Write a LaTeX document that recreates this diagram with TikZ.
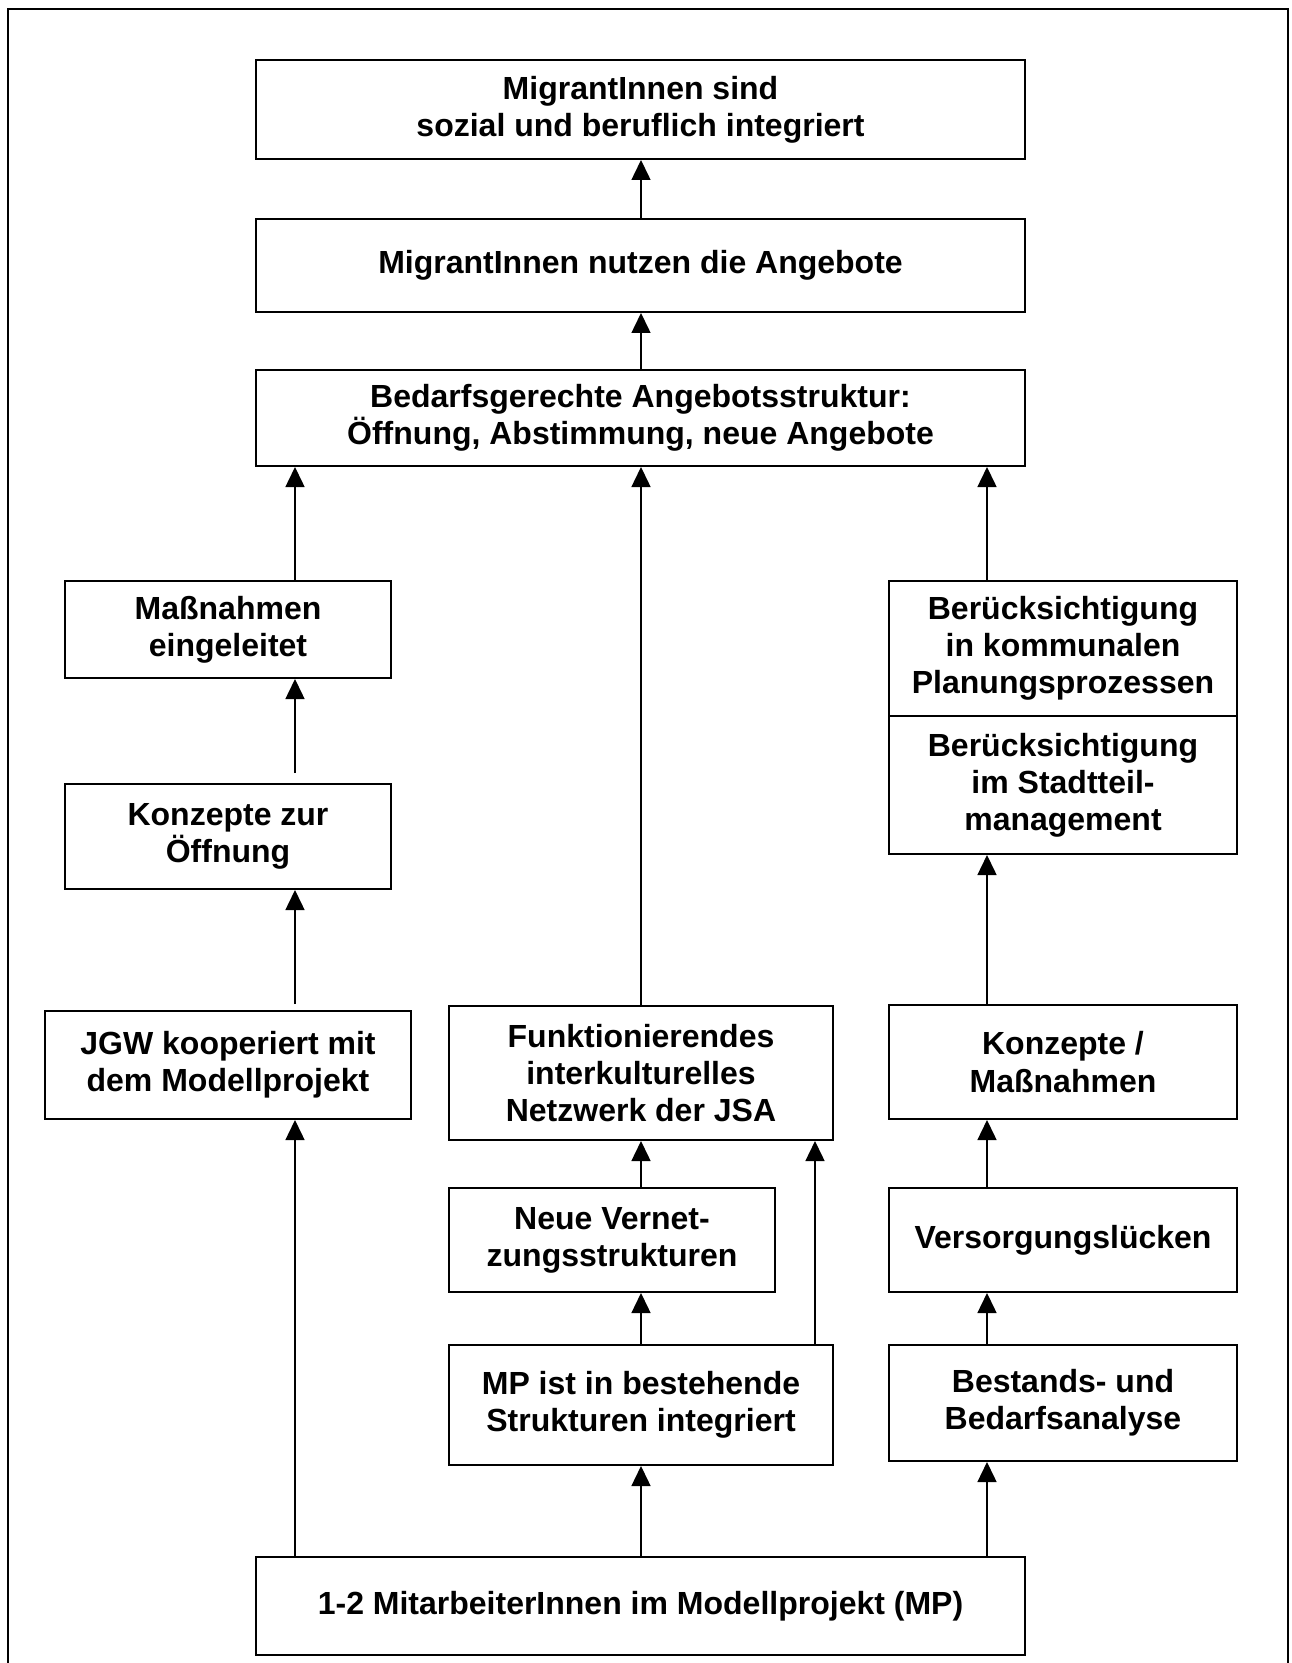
\documentclass[tikz,border=0pt]{standalone}
\usepackage{fontspec}
\setmainfont{Liberation Sans}
\usetikzlibrary{arrows.meta}
\begin{document}
\begin{tikzpicture}[x=0.5pt,y=-0.5pt,
  box/.style={draw, line width=1pt, align=center, inner sep=0pt,
    font=\bfseries\fontsize{16}{18.6}\selectfont},
  bx/.style 2 args={box, minimum width=#1*0.5pt, minimum height=#2*0.5pt},
  arr/.style={line width=0.75pt, -{Triangle[length=10pt,width=9.5pt]}}]
\useasboundingbox (0,0) rectangle (1291,1663);
\draw[line width=1pt] (8,1663) -- (8,9) -- (1288,9) -- (1288,1663);

\node[bx={769}{99}]  (top)   at (640.5,109.5) {MigrantInnen sind\\sozial und beruflich integriert};
\node[bx={769}{93}]  (use)   at (640.5,265.5) {MigrantInnen nutzen die Angebote};
\node[bx={769}{96}]  (ang)   at (640.5,418)   {Bedarfsgerechte Angebotsstruktur:\\Öffnung, Abstimmung, neue Angebote};
\node[bx={326}{97}]  (massn) at (228,629.5)   {Maßnahmen\\eingeleitet};
\node[bx={326}{105}] (konz)  at (228,836.5)   {Konzepte zur\\Öffnung};
\node[bx={366}{108}] (jgw)   at (228,1065)    {JGW kooperiert mit\\dem Modellprojekt};
\node[bx={384}{134}] (funk)  at (641,1073)    {Funktionierendes\\interkulturelles\\Netzwerk der JSA};
\node[bx={348}{135}] (berk1) at (1063,648.5)  {Berücksichtigung\\in kommunalen\\Planungsprozessen};
\node[bx={348}{138}] (berk2) at (1063,785)    {Berücksichtigung\\im Stadtteil-\\management};
\node[bx={348}{114}] (konzm) at (1063,1062)   {Konzepte /\\Maßnahmen};
\node[bx={326}{104}] (neue)  at (612,1240)    {Neue Vernet-\\zungsstrukturen};
\node[bx={348}{104}] (vers)  at (1063,1240)   {Versorgungslücken};
\node[bx={384}{120}] (mp)    at (641,1405)    {MP ist in bestehende\\Strukturen integriert};
\node[bx={348}{116}] (best)  at (1063,1403)   {Bestands- und\\Bedarfsanalyse};
\node[bx={769}{98}]  (bot)   at (640.5,1606)  {1-2 MitarbeiterInnen im Modellprojekt (MP)};

\coordinate (xl) at (295,0);
\coordinate (xm) at (641,0);
\coordinate (xr) at (987,0);
\coordinate (xe) at (815,0);

\draw[arr] (use.north -| xm) -- (top.south -| xm);
\draw[arr] (ang.north -| xm) -- (use.south -| xm);
\draw[arr] (massn.north -| xl) -- (ang.south -| xl);
\draw[arr, shorten <=5pt] (konz.north -| xl) -- (massn.south -| xl);
\draw[arr, shorten <=3pt] (jgw.north -| xl) -- (konz.south -| xl);
\draw[arr] (bot.north -| xl) -- (jgw.south -| xl);
\draw[arr] (funk.north -| xm) -- (ang.south -| xm);
\draw[arr] (neue.north -| xm) -- (funk.south -| xm);
\draw[arr] (mp.north -| xm) -- (neue.south -| xm);
\draw[arr] (mp.north -| xe) -- (funk.south -| xe);
\draw[arr] (bot.north -| xm) -- (mp.south -| xm);
\draw[arr] (berk1.north -| xr) -- (ang.south -| xr);
\draw[arr] (konzm.north -| xr) -- (berk2.south -| xr);
\draw[arr] (vers.north -| xr) -- (konzm.south -| xr);
\draw[arr] (best.north -| xr) -- (vers.south -| xr);
\draw[arr] (bot.north -| xr) -- (best.south -| xr);
\end{tikzpicture}
\end{document}
